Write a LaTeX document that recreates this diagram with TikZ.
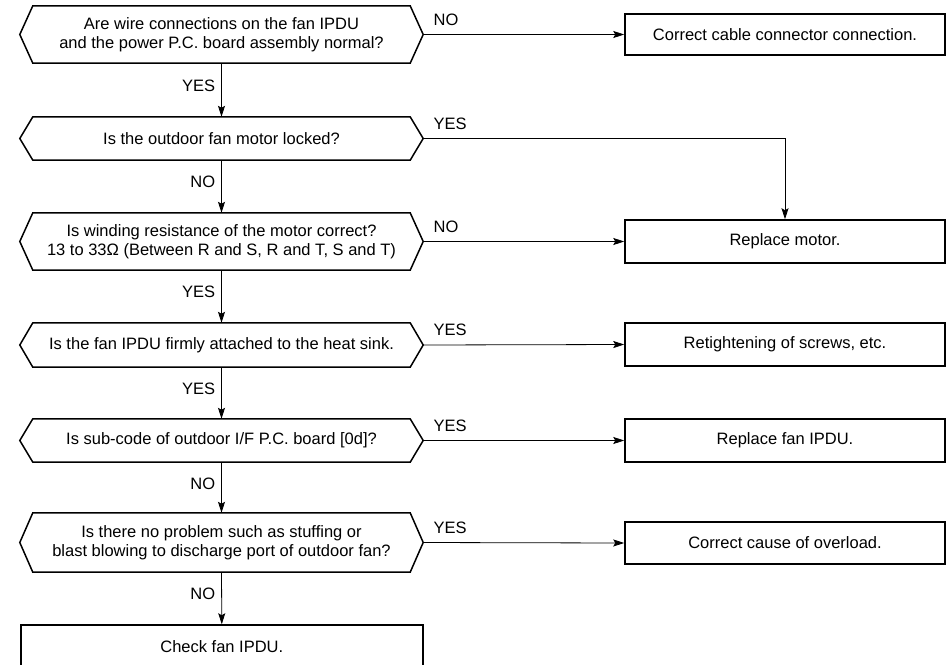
\documentclass[tikz,border=0pt]{standalone}
\usepackage{fontspec}
\setmainfont{Liberation Sans}
\usetikzlibrary{arrows.meta}

\begin{document}
\begin{tikzpicture}[x=1pt, y=-1pt,
        every node/.style={font=\fontsize{16.5}{19.5}\selectfont},
        question/.style={minimum width=403pt, inner sep=0pt, align=center},
        action/.style={draw, line width=1.5pt, minimum width=320pt, minimum height=43pt, inner sep=0pt, align=center},
        flow/.style={line width=0.8pt, -{Stealth[length=11pt, width=7pt, inset=2pt]}},
        answer/.style={inner sep=0pt, anchor=base west, xshift=10pt, yshift=9.5pt}]
        \useasboundingbox (0,0) rectangle (950,664);

        % Draw questions
        \node[question, minimum height=57pt] (q1) at (221.5,34.5) {Are wire connections on the fan IPDU\\and the power P.C. board assembly normal?};
        \node[question, minimum height=43pt] (q2) at (221.5,138.5) {Is the outdoor fan motor locked?};
        \node[question, minimum height=57pt] (q3) at (221.5,241.5) {Is winding resistance of the motor correct?\\13 to 33Ω (Between R and S, R and T, S and T)};
        \node[question, minimum height=44pt] (q4) at (221.5,345) {Is the fan IPDU firmly attached to the heat sink.};
        \node[question, minimum height=43pt] (q5) at (221.5,440.5) {Is sub-code of outdoor I/F P.C. board [0d]?};
        \node[question, minimum height=59pt] (q6) at (221.5,542.5) {Is there no problem such as stuffing or\\blast blowing to discharge port of outdoor fan?};

        % Draw hexagon outlines
        \foreach \q in {q1,q2,q3,q4,q5,q6}
            \draw[line width=1.5pt] (\q.west) -- ([xshift=13pt]\q.north west) -- ([xshift=-13pt]\q.north east)
                -- (\q.east) -- ([xshift=-13pt]\q.south east) -- ([xshift=13pt]\q.south west) -- cycle;

        % Draw actions
        \node[action, minimum height=41pt] (a1) at (785,34.5) {Correct cable connector connection.};
        \node[action] (a2) at (785,241.5) {Replace motor.};
        \node[action] (a3) at (785,344.5) {Retightening of screws, etc.};
        \node[action] (a4) at (785,440.5) {Replace fan IPDU.};
        \node[action, minimum height=42pt] (a5) at (785,543) {Correct cause of overload.};
        \node[action, minimum width=402pt, minimum height=44pt] (a6) at (221.8,647) {Check fan IPDU.};

        % Draw connections
        \draw[flow] (q1.east) -- (a1.west) node[answer, pos=0] {NO};
        \draw[flow] (q1.south) -- (q2.north) node[pos=0.42, left, inner sep=6pt] {YES};
        \draw[flow] (q2.east) -| (a2.north) node[answer, pos=0] {YES};
        \draw[flow] (q2.south) -- (q3.north) node[pos=0.42, left, inner sep=6pt] {NO};
        \draw[flow] (q3.east) -- (a2.west) node[answer, pos=0] {NO};
        \draw[flow] (q3.south) -- (q4.north) node[pos=0.42, left, inner sep=6pt] {YES};
        \draw[flow] (q4.east) -- (a3.west) node[answer, pos=0] {YES};
        \draw[flow] (q4.south) -- (q5.north) node[pos=0.42, left, inner sep=6pt] {YES};
        \draw[flow] (q5.east) -- (a4.west) node[answer, pos=0] {YES};
        \draw[flow] (q5.south) -- (q6.north) node[pos=0.42, left, inner sep=6pt] {NO};
        \draw[flow] (q6.east) -- (a5.west) node[answer, pos=0] {YES};
        \draw[flow] (q6.south) -- (a6.north) node[pos=0.42, left, inner sep=6pt] {NO};
\end{tikzpicture}
\end{document}
